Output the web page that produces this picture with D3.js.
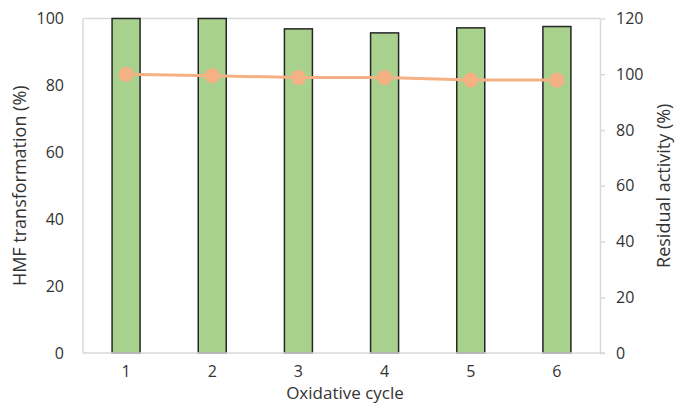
<!DOCTYPE html>
<html>
<head>
<meta charset="utf-8">
<script src="https://cdn.jsdelivr.net/npm/d3@7"></script>
<style>
  html, body { margin: 0; padding: 0; background: #fff; }
  text { font-family: "Open Sans", sans-serif; fill: #333; }
</style>
</head>
<body>
<svg id="chart" width="676" height="403"></svg>
<script>
// Oxidative cycles and measurements
const cycles = ["1", "2", "3", "4", "5", "6"];
const hmfTransformation = [100, 100, 96.9, 95.7, 97.2, 97.6];   // bars, left axis (%)
const residualActivity = [100, 99.5, 98.8, 98.8, 97.9, 97.9];   // line, right axis (%)
const leftTicks = [0, 20, 40, 60, 80, 100];
const rightTicks = [0, 20, 40, 60, 80, 100, 120];

const svg = d3.select("#chart");
const plot = { left: 83, right: 600, top: 18.5, bottom: 353 };

const x = d3.scaleBand().domain(cycles).range([plot.left, plot.right]).paddingInner(0.675).paddingOuter(0.3375);
const yLeft = d3.scaleLinear().domain([0, 100]).range([plot.bottom, plot.top]);
const yRight = d3.scaleLinear().domain([0, 120]).range([plot.bottom, plot.top]);

const frame = "#d9d9d9";
const ink = "#333";

// plot frame: top and left edges
svg.append("line").attr("x1", plot.left).attr("x2", plot.right).attr("y1", plot.top).attr("y2", plot.top)
  .attr("stroke", frame).attr("stroke-width", 1.5);
svg.append("line").attr("x1", plot.left).attr("x2", plot.left).attr("y1", plot.top).attr("y2", plot.bottom)
  .attr("stroke", frame).attr("stroke-width", 1.5);

// left axis labels (no tick marks)
const gl = svg.append("g").attr("transform", `translate(${plot.left},0)`)
  .call(d3.axisLeft(yLeft).tickValues(leftTicks).tickSize(0).tickPadding(19));
gl.select(".domain").remove();
gl.selectAll("text").style("font-size", "16px").attr("fill", ink);

// right axis with outward ticks
const gr = svg.append("g").attr("transform", `translate(${plot.right},0)`)
  .call(d3.axisRight(yRight).tickValues(rightTicks).tickSize(5).tickSizeOuter(0).tickPadding(11));
gr.select(".domain").attr("stroke", frame).attr("stroke-width", 1.5);
gr.selectAll(".tick line").attr("stroke", frame).attr("stroke-width", 1.5);
gr.selectAll("text").style("font-size", "16px").attr("fill", ink);

// bars
svg.append("g").selectAll("rect").data(cycles).join("rect")
  .attr("x", d => x(d))
  .attr("width", x.bandwidth())
  .attr("y", (d, i) => yLeft(hmfTransformation[i]))
  .attr("height", (d, i) => plot.bottom - yLeft(hmfTransformation[i]))
  .attr("fill", "#a9d18e")
  .attr("stroke", "#262626")
  .attr("stroke-width", 1.5);

// bottom axis
const gb = svg.append("g").attr("transform", `translate(0,${plot.bottom})`)
  .call(d3.axisBottom(x).tickSize(0).tickPadding(13));
gb.select(".domain").remove();
gb.selectAll("text").style("font-size", "16px").attr("fill", ink);
svg.append("line").attr("x1", plot.left).attr("x2", plot.right + 5).attr("y1", plot.bottom).attr("y2", plot.bottom)
  .attr("stroke", frame).attr("stroke-width", 1.5);

// residual activity line with markers
const cx = d => x(d) + x.bandwidth() / 2;
const line = d3.line().x((d, i) => cx(cycles[i])).y(d => yRight(d));
svg.append("path").datum(residualActivity)
  .attr("d", line).attr("fill", "none").attr("stroke", "#f4b183").attr("stroke-width", 3);
svg.append("g").selectAll("circle").data(residualActivity).join("circle")
  .attr("cx", (d, i) => cx(cycles[i]))
  .attr("cy", d => yRight(d))
  .attr("r", 7.5)
  .attr("fill", "#f4b183");

// axis titles
svg.append("text").attr("transform", `translate(26,${(plot.top + plot.bottom) / 2}) rotate(-90)`)
  .attr("text-anchor", "middle").style("font-size", "18px").text("HMF transformation (%)");
svg.append("text").attr("transform", `translate(670,${(plot.top + plot.bottom) / 2}) rotate(-90)`)
  .attr("text-anchor", "middle").style("font-size", "18px").text("Residual activity (%)");
svg.append("text").attr("x", 345).attr("y", 399)
  .attr("text-anchor", "middle").style("font-size", "17px").text("Oxidative cycle");
</script>
</body>
</html>
